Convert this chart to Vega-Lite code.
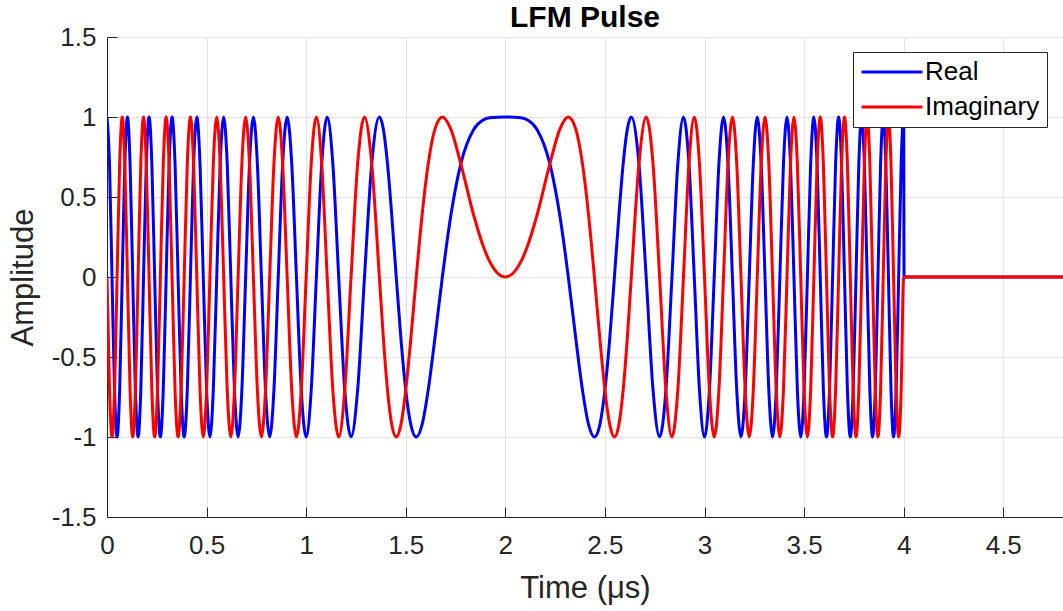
{
  "$schema": "https://vega.github.io/schema/vega-lite/v6.json",
  "width": 956,
  "height": 480,
  "autosize": {"type": "none"},
  "padding": {"left": 107, "top": 37, "right": 0, "bottom": 94},
  "background": "white",
  "config": {
    "font": "Liberation Sans",
    "view": {"stroke": null},
    "axis": {
      "domainColor": "#262626",
      "domainWidth": 1,
      "tickColor": "#262626",
      "tickSize": -10,
      "tickWidth": 1,
      "labelColor": "#262626",
      "labelFont": "Liberation Sans",
      "labelFontSize": 26,
      "titleColor": "#262626",
      "titleFont": "Liberation Sans",
      "titleFontSize": 31,
      "titleFontWeight": "normal",
      "gridColor": "#e3e3e3",
      "gridWidth": 1
    },
    "title": {"font": "Liberation Sans", "fontSize": 30, "fontWeight": "bold", "color": "black"}
  },
  "title": {"text": "LFM Pulse", "anchor": "middle", "offset": 10, "dy": 19},
  "data": {
    "values": [
      {"t": 0, "re": 1, "im": 0},
      {"t": 0.01254, "re": 0.7071, "im": -0.7071},
      {"t": 0.02516, "re": 0, "im": -1},
      {"t": 0.03786, "re": -0.7071, "im": -0.7071},
      {"t": 0.05064, "re": -1, "im": 0},
      {"t": 0.06351, "re": -0.7071, "im": 0.7071},
      {"t": 0.07646, "re": 0, "im": 1},
      {"t": 0.0895, "re": 0.7071, "im": 0.7071},
      {"t": 0.10263, "re": 1, "im": 0},
      {"t": 0.11586, "re": 0.7071, "im": -0.7071},
      {"t": 0.12917, "re": 0, "im": -1},
      {"t": 0.14258, "re": -0.7071, "im": -0.7071},
      {"t": 0.15609, "re": -1, "im": 0},
      {"t": 0.1697, "re": -0.7071, "im": 0.7071},
      {"t": 0.18341, "re": 0, "im": 1},
      {"t": 0.19722, "re": 0.7071, "im": 0.7071},
      {"t": 0.21115, "re": 1, "im": 0},
      {"t": 0.22518, "re": 0.7071, "im": -0.7071},
      {"t": 0.23932, "re": 0, "im": -1},
      {"t": 0.25358, "re": -0.7071, "im": -0.7071},
      {"t": 0.26795, "re": -1, "im": 0},
      {"t": 0.28244, "re": -0.7071, "im": 0.7071},
      {"t": 0.29706, "re": 0, "im": 1},
      {"t": 0.31181, "re": 0.7071, "im": 0.7071},
      {"t": 0.32668, "re": 1, "im": 0},
      {"t": 0.34169, "re": 0.7071, "im": -0.7071},
      {"t": 0.35683, "re": 0, "im": -1},
      {"t": 0.37212, "re": -0.7071, "im": -0.7071},
      {"t": 0.38755, "re": -1, "im": 0},
      {"t": 0.40313, "re": -0.7071, "im": 0.7071},
      {"t": 0.41886, "re": 0, "im": 1},
      {"t": 0.43475, "re": 0.7071, "im": 0.7071},
      {"t": 0.45081, "re": 1, "im": 0},
      {"t": 0.46703, "re": 0.7071, "im": -0.7071},
      {"t": 0.48342, "re": 0, "im": -1},
      {"t": 0.5, "re": -0.7071, "im": -0.7071},
      {"t": 0.51676, "re": -1, "im": 0},
      {"t": 0.53371, "re": -0.7071, "im": 0.7071},
      {"t": 0.55086, "re": 0, "im": 1},
      {"t": 0.56822, "re": 0.7071, "im": 0.7071},
      {"t": 0.58579, "re": 1, "im": 0},
      {"t": 0.60358, "re": 0.7071, "im": -0.7071},
      {"t": 0.6216, "re": 0, "im": -1},
      {"t": 0.63985, "re": -0.7071, "im": -0.7071},
      {"t": 0.65836, "re": -1, "im": 0},
      {"t": 0.67712, "re": -0.7071, "im": 0.7071},
      {"t": 0.69616, "re": 0, "im": 1},
      {"t": 0.71548, "re": 0.7071, "im": 0.7071},
      {"t": 0.73509, "re": 1, "im": 0},
      {"t": 0.75501, "re": 0.7071, "im": -0.7071},
      {"t": 0.77526, "re": 0, "im": -1},
      {"t": 0.79584, "re": -0.7071, "im": -0.7071},
      {"t": 0.81678, "re": -1, "im": 0},
      {"t": 0.8381, "re": -0.7071, "im": 0.7071},
      {"t": 0.85982, "re": 0, "im": 1},
      {"t": 0.88197, "re": 0.7071, "im": 0.7071},
      {"t": 0.90455, "re": 1, "im": 0},
      {"t": 0.92762, "re": 0.7071, "im": -0.7071},
      {"t": 0.95119, "re": 0, "im": -1},
      {"t": 0.9753, "re": -0.7071, "im": -0.7071},
      {"t": 1, "re": -1, "im": 0},
      {"t": 1.02532, "re": -0.7071, "im": 0.7071},
      {"t": 1.05132, "re": 0, "im": 1},
      {"t": 1.07805, "re": 0.7071, "im": 0.7071},
      {"t": 1.10557, "re": 1, "im": 0},
      {"t": 1.13397, "re": 0.7071, "im": -0.7071},
      {"t": 1.16334, "re": 0, "im": -1},
      {"t": 1.19377, "re": -0.7071, "im": -0.7071},
      {"t": 1.2254, "re": -1, "im": 0},
      {"t": 1.25838, "re": -0.7071, "im": 0.7071},
      {"t": 1.29289, "re": 0, "im": 1},
      {"t": 1.32918, "re": 0.7071, "im": 0.7071},
      {"t": 1.36754, "re": 1, "im": 0},
      {"t": 1.38763, "re": 0.9239, "im": -0.3827},
      {"t": 1.40839, "re": 0.7071, "im": -0.7071},
      {"t": 1.42991, "re": 0.3827, "im": -0.9239},
      {"t": 1.45228, "re": 0, "im": -1},
      {"t": 1.4756, "re": -0.3827, "im": -0.9239},
      {"t": 1.5, "re": -0.7071, "im": -0.7071},
      {"t": 1.52566, "re": -0.9239, "im": -0.3827},
      {"t": 1.55279, "re": -1, "im": 0},
      {"t": 1.58167, "re": -0.9239, "im": 0.3827},
      {"t": 1.6127, "re": -0.7071, "im": 0.7071},
      {"t": 1.64645, "re": -0.3827, "im": 0.9239},
      {"t": 1.68377, "re": 0, "im": 1},
      {"t": 1.72614, "re": 0.3827, "im": 0.9239},
      {"t": 1.77639, "re": 0.7071, "im": 0.7071},
      {"t": 1.84189, "re": 0.9239, "im": 0.3827},
      {"t": 1.8882, "re": 0.9808, "im": 0.1951},
      {"t": 1.92094, "re": 0.9952, "im": 0.098},
      {"t": 2, "re": 1, "im": 0},
      {"t": 2.07906, "re": 0.9952, "im": 0.098},
      {"t": 2.1118, "re": 0.9808, "im": 0.1951},
      {"t": 2.15811, "re": 0.9239, "im": 0.3827},
      {"t": 2.22361, "re": 0.7071, "im": 0.7071},
      {"t": 2.27386, "re": 0.3827, "im": 0.9239},
      {"t": 2.31623, "re": 0, "im": 1},
      {"t": 2.35355, "re": -0.3827, "im": 0.9239},
      {"t": 2.3873, "re": -0.7071, "im": 0.7071},
      {"t": 2.41833, "re": -0.9239, "im": 0.3827},
      {"t": 2.44721, "re": -1, "im": 0},
      {"t": 2.47434, "re": -0.9239, "im": -0.3827},
      {"t": 2.5, "re": -0.7071, "im": -0.7071},
      {"t": 2.5244, "re": -0.3827, "im": -0.9239},
      {"t": 2.54772, "re": 0, "im": -1},
      {"t": 2.57009, "re": 0.3827, "im": -0.9239},
      {"t": 2.59161, "re": 0.7071, "im": -0.7071},
      {"t": 2.61237, "re": 0.9239, "im": -0.3827},
      {"t": 2.63246, "re": 1, "im": 0},
      {"t": 2.67082, "re": 0.7071, "im": 0.7071},
      {"t": 2.70711, "re": 0, "im": 1},
      {"t": 2.74162, "re": -0.7071, "im": 0.7071},
      {"t": 2.7746, "re": -1, "im": 0},
      {"t": 2.80623, "re": -0.7071, "im": -0.7071},
      {"t": 2.83666, "re": 0, "im": -1},
      {"t": 2.86603, "re": 0.7071, "im": -0.7071},
      {"t": 2.89443, "re": 1, "im": 0},
      {"t": 2.92195, "re": 0.7071, "im": 0.7071},
      {"t": 2.94868, "re": 0, "im": 1},
      {"t": 2.97468, "re": -0.7071, "im": 0.7071},
      {"t": 3, "re": -1, "im": 0},
      {"t": 3.0247, "re": -0.7071, "im": -0.7071},
      {"t": 3.04881, "re": 0, "im": -1},
      {"t": 3.07238, "re": 0.7071, "im": -0.7071},
      {"t": 3.09545, "re": 1, "im": 0},
      {"t": 3.11803, "re": 0.7071, "im": 0.7071},
      {"t": 3.14018, "re": 0, "im": 1},
      {"t": 3.1619, "re": -0.7071, "im": 0.7071},
      {"t": 3.18322, "re": -1, "im": 0},
      {"t": 3.20416, "re": -0.7071, "im": -0.7071},
      {"t": 3.22474, "re": 0, "im": -1},
      {"t": 3.24499, "re": 0.7071, "im": -0.7071},
      {"t": 3.26491, "re": 1, "im": 0},
      {"t": 3.28452, "re": 0.7071, "im": 0.7071},
      {"t": 3.30384, "re": 0, "im": 1},
      {"t": 3.32288, "re": -0.7071, "im": 0.7071},
      {"t": 3.34164, "re": -1, "im": 0},
      {"t": 3.36015, "re": -0.7071, "im": -0.7071},
      {"t": 3.3784, "re": 0, "im": -1},
      {"t": 3.39642, "re": 0.7071, "im": -0.7071},
      {"t": 3.41421, "re": 1, "im": 0},
      {"t": 3.43178, "re": 0.7071, "im": 0.7071},
      {"t": 3.44914, "re": 0, "im": 1},
      {"t": 3.46629, "re": -0.7071, "im": 0.7071},
      {"t": 3.48324, "re": -1, "im": 0},
      {"t": 3.5, "re": -0.7071, "im": -0.7071},
      {"t": 3.51658, "re": 0, "im": -1},
      {"t": 3.53297, "re": 0.7071, "im": -0.7071},
      {"t": 3.54919, "re": 1, "im": 0},
      {"t": 3.56525, "re": 0.7071, "im": 0.7071},
      {"t": 3.58114, "re": 0, "im": 1},
      {"t": 3.59687, "re": -0.7071, "im": 0.7071},
      {"t": 3.61245, "re": -1, "im": 0},
      {"t": 3.62788, "re": -0.7071, "im": -0.7071},
      {"t": 3.64317, "re": 0, "im": -1},
      {"t": 3.65831, "re": 0.7071, "im": -0.7071},
      {"t": 3.67332, "re": 1, "im": 0},
      {"t": 3.68819, "re": 0.7071, "im": 0.7071},
      {"t": 3.70294, "re": 0, "im": 1},
      {"t": 3.71756, "re": -0.7071, "im": 0.7071},
      {"t": 3.73205, "re": -1, "im": 0},
      {"t": 3.74642, "re": -0.7071, "im": -0.7071},
      {"t": 3.76068, "re": 0, "im": -1},
      {"t": 3.77482, "re": 0.7071, "im": -0.7071},
      {"t": 3.78885, "re": 1, "im": 0},
      {"t": 3.80278, "re": 0.7071, "im": 0.7071},
      {"t": 3.81659, "re": 0, "im": 1},
      {"t": 3.8303, "re": -0.7071, "im": 0.7071},
      {"t": 3.84391, "re": -1, "im": 0},
      {"t": 3.85742, "re": -0.7071, "im": -0.7071},
      {"t": 3.87083, "re": 0, "im": -1},
      {"t": 3.88414, "re": 0.7071, "im": -0.7071},
      {"t": 3.89737, "re": 1, "im": 0},
      {"t": 3.9105, "re": 0.7071, "im": 0.7071},
      {"t": 3.92354, "re": 0, "im": 1},
      {"t": 3.93649, "re": -0.7071, "im": 0.7071},
      {"t": 3.94936, "re": -1, "im": 0},
      {"t": 3.96214, "re": -0.7071, "im": -0.7071},
      {"t": 3.97484, "re": 0, "im": -1},
      {"t": 3.98746, "re": 0.7071, "im": -0.7071},
      {"t": 4, "re": 1, "im": 0},
      {"t": 4.002, "re": 0, "im": 0},
      {"t": 4.8, "re": 0, "im": 0}
    ]
  },
  "encoding": {
    "x": {
      "field": "t",
      "type": "quantitative",
      "scale": {"domain": [0, 4.8], "nice": false, "zero": false},
      "axis": {
        "title": "Time (μs)",
        "values": [0, 0.5, 1, 1.5, 2, 2.5, 3, 3.5, 4, 4.5],
        "labelExpr": "format(datum.value, '')",
        "labelPadding": 25,
        "titlePadding": 15,
        "labelFlush": false
      }
    }
  },
  "layer": [
    {
      "mark": {"type": "line", "strokeWidth": 3, "interpolate": "monotone", "clip": true},
      "encoding": {
        "y": {
          "field": "re",
          "type": "quantitative",
          "scale": {"domain": [-1.5, 1.5], "nice": false},
          "axis": {
            "title": "Amplitude",
            "values": [-1.5, -1, -0.5, 0, 0.5, 1, 1.5],
            "labelExpr": "(datum.value < 0 ? '-' : '') + format(abs(datum.value), '')",
            "labelPadding": 21,
            "titlePadding": 12,
            "labelFlush": false
          }
        },
        "color": {
          "datum": "Real",
          "type": "nominal",
          "scale": {"domain": ["Real", "Imaginary"], "range": ["#0000ff", "#ff0000"]},
          "legend": {
            "title": null,
            "orient": "none",
            "legendX": 746,
            "legendY": 15,
            "fillColor": "white",
            "strokeColor": "#262626",
            "padding": 7,
            "symbolType": "M-3,0H3",
            "symbolSize": 413,
            "symbolStrokeWidth": 3,
            "symbolOffset": 19,
            "labelOffset": 20,
            "labelFontSize": 26,
            "labelColor": "black",
            "labelFont": "Liberation Sans",
            "rowPadding": 9
          }
        }
      }
    },
    {
      "mark": {"type": "line", "strokeWidth": 3, "interpolate": "monotone", "clip": true},
      "encoding": {
        "y": {"field": "im", "type": "quantitative"},
        "color": {"datum": "Imaginary", "type": "nominal"}
      }
    }
  ]
}
